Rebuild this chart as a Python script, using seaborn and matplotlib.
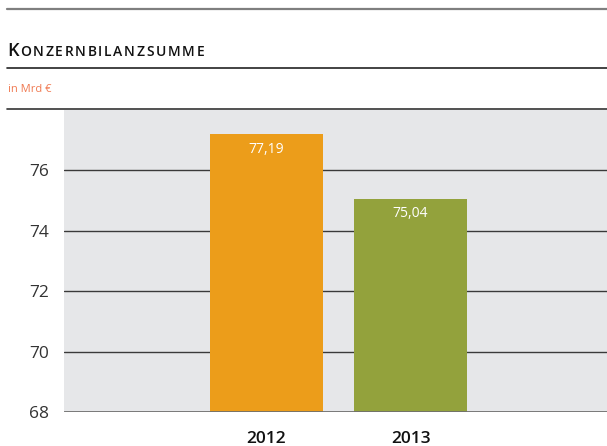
import matplotlib
matplotlib.use('Agg')
import matplotlib.pyplot as plt
import seaborn as sns
import pandas as pd
from matplotlib.lines import Line2D

# data
years = ['2012', '2013']
values = [77.19, 75.04]
bar_colors = ['#ec9d1a', '#93a23c']
yticks = [68, 70, 72, 74, 76]

title_first = 'K'
title_rest = 'ONZERNBILANZSUMME'
unit_text = 'in Mrd €'

sns.set_style('white')
plt.rcParams['font.family'] = ['Open Sans', 'DejaVu Sans']

df = pd.DataFrame({'year': years, 'value': values})

W, H = 607, 446
fig = plt.figure(figsize=(W / 100, H / 100), dpi=100)
ax = fig.add_axes([64 / W, (H - 412) / H, 1 - 64 / W, (412 - 110) / H])
ax.set_facecolor('#e6e7e9')

sns.barplot(data=df, x='year', y='value', hue='year', palette=bar_colors,
            width=0.78, legend=False, ax=ax, saturation=1, zorder=3,
            linewidth=0, edgecolor='none')

ax.set_ylim(68, 78)
ax.set_xlim(-1.4, 2.36)
ax.set_yticks(yticks)
ax.set_axisbelow(True)
for t in yticks[1:]:
    ax.axhline(t, color='#3a3a3a', lw=1.0, zorder=1)
ax.axhline(68, color='#6e6e6e', lw=2.0, zorder=4)

for s in ax.spines.values():
    s.set_visible(False)
ax.tick_params(axis='y', length=0, pad=11, labelsize=12.5, labelcolor='#333333')
ax.tick_params(axis='x', length=0, pad=14, labelsize=12.5, labelcolor='#111111')
for lab in ax.get_xticklabels():
    lab.set_fontweight('semibold')
ax.set_xlabel('')
ax.set_ylabel('')

# value labels inside bars
for i, v in enumerate(values):
    ax.annotate(f'{v:.2f}'.replace('.', ','), xy=(i, v), xytext=(0, -10.5),
                textcoords='offset points', ha='center', va='center',
                color='white', fontsize=10, zorder=5)

# header rules
for ypx, col, lw in [(9, '#7f7f7f', 1.6), (68, '#222222', 1.2), (109, '#333333', 1.2)]:
    fig.add_artist(Line2D([7 / W, 1], [1 - ypx / H] * 2, color=col, lw=lw,
                          transform=fig.transFigure))

# title in small caps, spaced letters
fig.canvas.draw()
r = fig.canvas.get_renderer()
base_y = 1 - 55.5 / H
tk = fig.text(7 / W, base_y, title_first, fontsize=13, color='#111111',
              va='baseline', fontweight='semibold')
x0 = tk.get_window_extent(r).x1 + 1.5
letters = []
for ch in title_rest:
    t = fig.text(0, base_y, ch, fontsize=10, color='#111111', va='baseline',
                 fontweight='semibold')
    letters.append((t, t.get_window_extent(r).width))
natural = sum(w for _, w in letters)
gap = (204 - x0 - natural) / (len(letters) - 1)
x = x0
for t, w in letters:
    t.set_x(x / W)
    x += w + gap

fig.text(8 / W, 1 - 89 / H, unit_text, fontsize=8, color='#f07a52', va='center')

fig.savefig('out.png', dpi=100, facecolor='white')
